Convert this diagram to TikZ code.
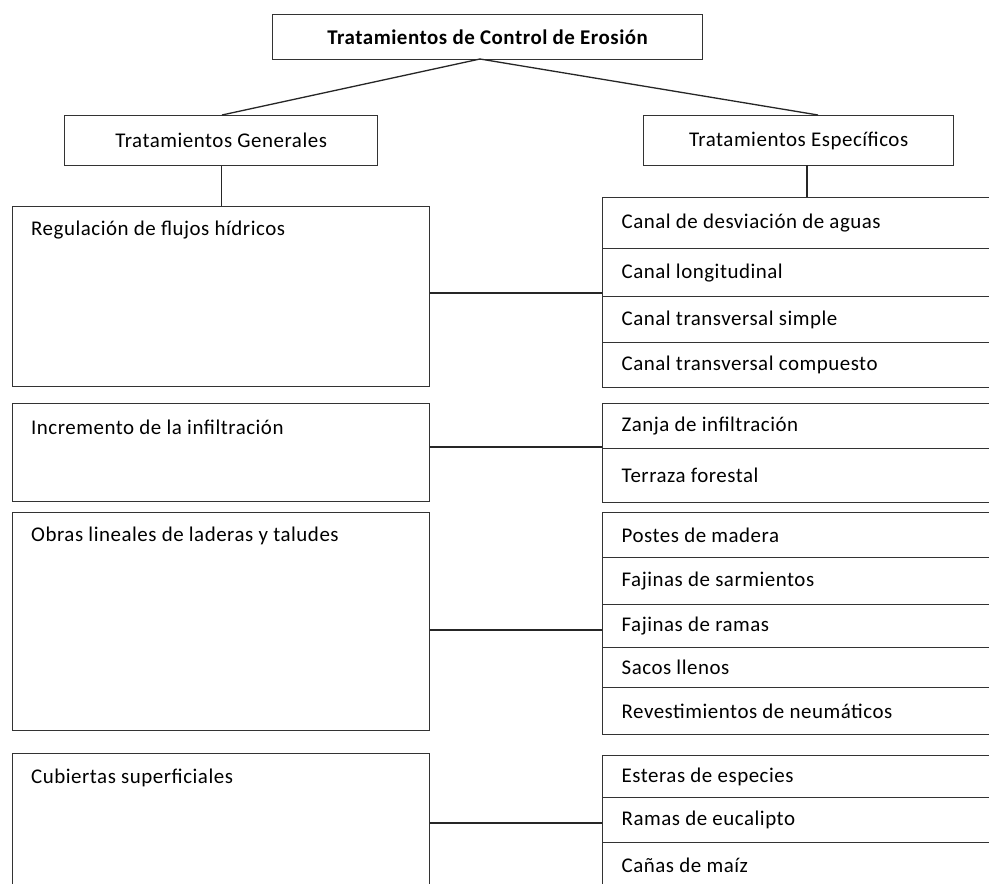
\documentclass[tikz,border=0pt]{standalone}
\usepackage{fontspec}
\setmainfont[LetterSpace=2.5]{Carlito}
\usetikzlibrary{calc}
\begin{document}
\begin{tikzpicture}[x=1bp,y=-1bp,
  txt/.style={font=\fontsize{21}{24}\selectfont},
  box/.style={draw=black!80, line width=1.3bp, rectangle, inner sep=0pt, anchor=north west, txt},
  lbl/.style={anchor=west, inner sep=0pt, txt},
  rowbox/.style={draw=black!80, line width=1.3bp, rectangle, anchor=north west, minimum width=420bp, text width=382bp, inner xsep=19bp, inner ysep=0pt, align=flush left, txt},
  link/.style={draw=black!85, line width=1.3bp}]
\useasboundingbox (0,0) rectangle (989,884);
\clip (0,0) rectangle (989,884);
\fill[white] (0,0) rectangle (989,884);

% header level
\node[box, minimum width=430bp, minimum height=45bp, font=\fontsize{21}{24}\selectfont\bfseries] (top) at (272,14) {Tratamientos de Control de Erosión};
\node[box, minimum width=313bp, minimum height=50bp] (gen) at (64,115) {Tratamientos Generales};
\node[box, minimum width=310bp, minimum height=50bp] (esp) at (643,115) {Tratamientos Específicos};

% left boxes
\node[box, minimum width=417bp, minimum height=180bp] (reg) at (12,206) {};
\node[lbl] (regt) at ($(reg.north west)+(19,24)$) {Regulación de flujos hídricos};
\node[box, minimum width=417bp, minimum height=98bp] (inc) at (12,403) {};
\node[lbl] (inct) at ($(inc.north west)+(19,24)$) {Incremento de la infiltración};
\node[box, minimum width=417bp, minimum height=218bp] (obr) at (12,512) {};
\node[lbl] (obrt) at ($(obr.north west)+(19,24)$) {Obras lineales de laderas y taludes};
\node[box, minimum width=417bp, minimum height=200bp] (cub) at (12,753) {};
\node[lbl] (cubt) at ($(cub.north west)+(19,25)$) {Cubiertas superficiales};

% right stacks
\node[rowbox, minimum height=51bp] (s1a) at (602,197) {Canal de desviación de aguas};
\node[rowbox, minimum height=48bp] (s1b) at (602,248) {Canal longitudinal};
\node[rowbox, minimum height=46bp] (s1c) at (602,296) {Canal transversal simple};
\node[rowbox, minimum height=45bp] (s1d) at (602,342) {Canal transversal compuesto};

\node[rowbox, minimum height=45bp] (s2a) at (602,403) {Zanja de infiltración};
\node[rowbox, minimum height=54bp] (s2b) at (602,448) {Terraza forestal};

\node[rowbox, minimum height=45bp] (s3a) at (602,512) {Postes de madera};
\node[rowbox, minimum height=47bp] (s3b) at (602,557) {Fajinas de sarmientos};
\node[rowbox, minimum height=43bp] (s3c) at (602,604) {Fajinas de ramas};
\node[rowbox, minimum height=40bp] (s3d) at (602,647) {Sacos llenos};
\node[rowbox, minimum height=47bp] (s3e) at (602,687) {Revestimientos de neumáticos};

\node[rowbox, minimum height=42bp] (s4a) at (602,755) {Esteras de especies};
\node[rowbox, minimum height=45bp] (s4b) at (602,797) {Ramas de eucalipto};
\node[rowbox, minimum height=45bp] (s4c) at (602,842) {Cañas de maíz};

% connectors
\coordinate (apex) at (480,59);
\draw[link] (apex) -- (222,115);
\draw[link] (apex) -- (818,115);
\draw[link] (gen.south) -- (gen.south |- reg.north);
\draw[link] (807,165) -- (807,197);
\draw[link] (reg.east |- 0,293) -- (s1a.west |- 0,293);
\draw[link] (inc.east |- 0,447) -- (s2a.west |- 0,447);
\draw[link] (obr.east |- 0,630) -- (s3a.west |- 0,630);
\draw[link] (cub.east |- 0,823) -- (s4a.west |- 0,823);
\end{tikzpicture}
\end{document}
